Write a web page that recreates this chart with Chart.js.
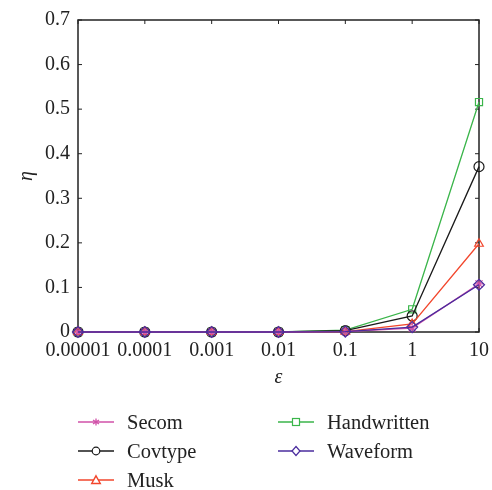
<!DOCTYPE html>
<html><head><meta charset="utf-8">
<script src="https://cdn.jsdelivr.net/npm/chart.js@4/dist/chart.umd.min.js"></script>
<style>
html,body{margin:0;padding:0;background:#fff;}
#wrap{position:relative;width:492px;height:490px;}
canvas{position:absolute;left:0;top:0;}
.leg{position:absolute;display:flex;align-items:center;font-family:"Liberation Serif","DejaVu Serif",serif;font-size:20.5px;color:#222;}
.leg svg{margin-right:13px;}
</style>
</head><body>
<div id="wrap"><canvas id="c" width="492" height="490"></canvas></div>
<script>
const categories = ["0.00001","0.0001","0.001","0.01","0.1","1","10"];
const yTicks = [0,0.1,0.2,0.3,0.4,0.5,0.6,0.7];
const secom       = [0,0,0,0,0.001,0.009,0.108];
const covtype     = [0,0,0,0,0.003,0.036,0.371];
const musk        = [0,0,0,0,0.001,0.018,0.198];
const handwritten = [0,0,0,0,0.004,0.051,0.516];
const waveform    = [0,0,0,0,0.001,0.011,0.106];
const seriesNames = ["Secom","Covtype","Musk","Handwritten","Waveform"];

const colors = {Secom:"#d050a8",Covtype:"#1a1a1a",Musk:"#f2462c",Handwritten:"#3ab54a",Waveform:"#4a2c9e"};
const styles = {Secom:"star",Covtype:"circle",Musk:"triangle",Handwritten:"rect",Waveform:"rectRot"};
const orders = {Secom:1,Covtype:3,Musk:2,Handwritten:4,Waveform:0};
const values = {Secom:secom,Covtype:covtype,Musk:musk,Handwritten:handwritten,Waveform:waveform};

const datasets = seriesNames.map(n=>({
  label:n, data:values[n], borderColor:colors[n], backgroundColor:'rgba(0,0,0,0)',
  pointBorderColor:colors[n], pointBackgroundColor:'rgba(0,0,0,0)',
  pointStyle:styles[n], pointRadius: n==="Waveform"?5.5:5, pointBorderWidth:1.2,
  borderWidth:1.3, tension:0, clip:false, order:orders[n]
}));

const boxPlugin = {
  id:'box',
  beforeDatasetsDraw(chart){
    const {ctx, chartArea:a, scales} = chart;
    ctx.save();
    ctx.strokeStyle='#222'; ctx.lineWidth=1.5;
    ctx.strokeRect(a.left,a.top,a.right-a.left,a.bottom-a.top);
    ctx.lineWidth=1;
    const L=4;
    yTicks.forEach(v=>{
      const y=scales.y.getPixelForValue(v);
      ctx.beginPath();
      ctx.moveTo(a.left,y);ctx.lineTo(a.left+L,y);
      ctx.moveTo(a.right,y);ctx.lineTo(a.right-L,y);
      ctx.stroke();
    });
    categories.forEach((c,i)=>{
      const x=scales.x.getPixelForValue(i);
      ctx.beginPath();
      ctx.moveTo(x,a.top);ctx.lineTo(x,a.top+L);
      ctx.moveTo(x,a.bottom);ctx.lineTo(x,a.bottom-L);
      ctx.stroke();
    });
    ctx.restore();
  }
};

const font = {family:"'Liberation Serif','DejaVu Serif',serif", size:20};
new Chart(document.getElementById('c'),{
  type:'line',
  data:{labels:categories, datasets},
  options:{
    responsive:false, animation:false, maintainAspectRatio:false,
    layout:{padding:{left:0,right:13,top:17,bottom:100}},
    plugins:{legend:{display:false},tooltip:{enabled:false}},
    scales:{
      x:{
        grid:{display:false,drawTicks:false}, border:{display:false},
        ticks:{color:'#222',font,padding:7,maxRotation:0,autoSkip:false},
        title:{display:true,text:'ε',color:'#222',font:{...font,style:'italic'},padding:{top:14,bottom:0}},
        afterFit(s){s.height=58; s.paddingLeft=0; s.paddingRight=0;}
      },
      y:{
        min:0,max:0.7,
        grid:{display:false,drawTicks:false}, border:{display:false},
        afterBuildTicks(s){s.ticks=yTicks.map(v=>({value:v}));},
        ticks:{color:'#222',font,padding:8,callback:v=>String(v)},
        title:{display:true,text:'η',color:'#222',font:{...font,style:'italic'},padding:{top:15,bottom:0}},
        afterFit(s){s.width=78;}
      }
    }
  },
  plugins:[boxPlugin]
});

// legend (HTML, real text)
const legendPos = {Secom:[78,422],Covtype:[78,451],Musk:[78,480],Handwritten:[278,422],Waveform:[278,451]};
function markerSvg(n){
  const c=colors[n];
  let m='';
  if(n==="Secom") m=`<path d="M18,2.5 V9.5 M15,4 L21,8 M21,4 L15,8" stroke="${c}" stroke-width="1.3" fill="none"/>`;
  if(n==="Covtype") m=`<circle cx="18" cy="6" r="3.8" stroke="${c}" stroke-width="1.2" fill="#fff"/>`;
  if(n==="Musk") m=`<path d="M18,1.8 L22.3,9.5 L13.7,9.5 Z" stroke="${c}" stroke-width="1.4" fill="#fff"/>`;
  if(n==="Handwritten") m=`<rect x="14.5" y="2.5" width="7" height="7" stroke="${c}" stroke-width="1.2" fill="#fff"/>`;
  if(n==="Waveform") m=`<path d="M18,1.5 L22,6 L18,10.5 L14,6 Z" stroke="${c}" stroke-width="1.2" fill="#fff"/>`;
  return `<svg width="36" height="12" viewBox="0 0 36 12"><line x1="0" y1="6" x2="36" y2="6" stroke="${c}" stroke-width="1.4"/>${m}</svg>`;
}
const wrap=document.getElementById('wrap');
seriesNames.forEach(n=>{
  const d=document.createElement('div');
  d.className='leg';
  d.style.left=legendPos[n][0]+'px';
  d.style.top=(legendPos[n][1]-12)+'px';
  d.style.height='24px';
  d.innerHTML=markerSvg(n)+'<span>'+n+'</span>';
  wrap.appendChild(d);
});
</script>
</body></html>
